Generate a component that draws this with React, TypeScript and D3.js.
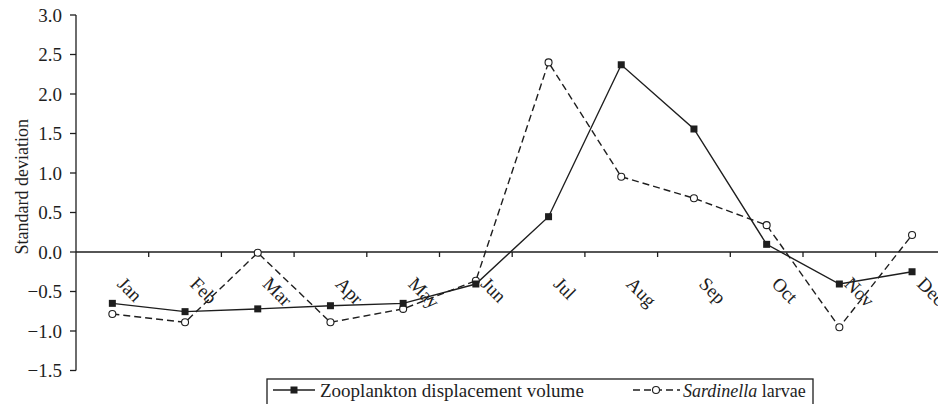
import React from "react";
import * as d3 from "d3";

const months = ["Jan", "Feb", "Mar", "Apr", "May", "Jun", "Jul", "Aug", "Sep", "Oct", "Nov", "Dec"];
const zooplankton = [-0.65, -0.755, -0.72, -0.68, -0.65, -0.405, 0.447, 2.37, 1.557, 0.097, -0.405, -0.25];
const sardinella = [-0.785, -0.89, -0.01, -0.89, -0.72, -0.363, 2.4, 0.953, 0.68, 0.34, -0.953, 0.215];
const yTicks = [3.0, 2.5, 2.0, 1.5, 1.0, 0.5, 0.0, -0.5, -1.0, -1.5];
const yTitle = "Standard deviation";
const legendZoo = "Zooplankton displacement volume";
const legendSar = ["Sardinella", " larvae"];

const W = 938;
const H = 404;
const FONT =
  '"Liberation Serif", "DejaVu Serif", "Times New Roman", Times, serif';
const INK = "#1e1e1e";

export default function App() {
  const x = d3.scaleBand<string>().domain(months).range([76, 948.4]).padding(0);
  const y = d3.scaleLinear().domain([-1.5, 3.0]).range([370.5, 15]);
  const bw = x.bandwidth();
  const cx = (m: string) => (x(m) as number) + bw / 2;

  const line = d3
    .line<number>()
    .x((_, i) => cx(months[i]))
    .y((v) => y(v));

  const boundaries = months.slice(1).map((m) => x(m) as number).concat([(x(months[11]) as number) + bw]);
  const fmt = (v: number) => (v < 0 ? "\u2212" + Math.abs(v).toFixed(1) : v.toFixed(1));
  const ts = (size: number) => ({ fontFamily: FONT, fontSize: size } as React.CSSProperties);

  return (
    <svg
      width={W}
      height={H}
      style={{ position: "absolute", left: 0, top: 0, background: "#fff", fontFamily: FONT }}
    >
      <rect x={0} y={0} width={W} height={H} fill="#fff" />
      {/* Y axis */}
      <line x1={76} x2={76} y1={y(3.0)} y2={y(-1.5)} stroke={INK} strokeWidth={1.3} />
      {yTicks.map((t) => (
        <g key={t}>
          <line x1={70} x2={76} y1={y(t)} y2={y(t)} stroke={INK} strokeWidth={1.3} />
          <text x={62} y={y(t)} dy="0.35em" textAnchor="end" style={ts(19)} fill={INK}>
            {fmt(t)}
          </text>
        </g>
      ))}
      <text
        transform={`translate(28, ${(y(3) + y(-1.5)) / 2 - 6}) rotate(-90)`}
        textAnchor="middle"
        style={ts(18)}
        fill={INK}
      >
        {yTitle}
      </text>
      {/* X axis at zero */}
      <line x1={76} x2={W} y1={y(0)} y2={y(0)} stroke={INK} strokeWidth={1.3} />
      {boundaries.map((b, i) => (
        <line key={i} x1={b} x2={b} y1={y(0)} y2={y(0) + 5} stroke={INK} strokeWidth={1.3} />
      ))}
      {months.map((m) => (
        <text
          key={m}
          transform={`translate(${cx(m) + 4}, ${285}) rotate(45)`}
          style={ts(19)}
          fill={INK}
        >
          {m}
        </text>
      ))}
      {/* Series */}
      <path d={line(sardinella) || ""} fill="none" stroke={INK} strokeWidth={1.4} strokeDasharray="7,4" />
      <path d={line(zooplankton) || ""} fill="none" stroke={INK} strokeWidth={1.4} />
      {sardinella.map((v, i) => (
        <circle key={"s" + i} cx={cx(months[i])} cy={y(v)} r={3.5} fill="#fff" stroke={INK} strokeWidth={1.1} />
      ))}
      {zooplankton.map((v, i) => (
        <rect key={"z" + i} x={cx(months[i]) - 3.5} y={y(v) - 3.5} width={7} height={7} fill={INK} />
      ))}
      {/* Legend */}
      <rect x={267} y={379} width={546} height={40} fill="none" stroke={INK} strokeWidth={1.3} />
      <line x1={273} x2={315} y1={390} y2={390} stroke={INK} strokeWidth={1.4} />
      <rect x={290.5} y={386.5} width={7} height={7} fill={INK} />
      <text x={320} y={397} style={ts(19)} fill={INK}>
        {legendZoo}
      </text>
      <line x1={633} x2={680} y1={390} y2={390} stroke={INK} strokeWidth={1.4} strokeDasharray="7,4" />
      <circle cx={656} cy={390} r={3.5} fill="#fff" stroke={INK} strokeWidth={1.1} />
      <text x={683} y={397} style={ts(18)} fill={INK}>
        <tspan fontStyle="italic">{legendSar[0]}</tspan>
        <tspan>{legendSar[1]}</tspan>
      </text>
    </svg>
  );
}
